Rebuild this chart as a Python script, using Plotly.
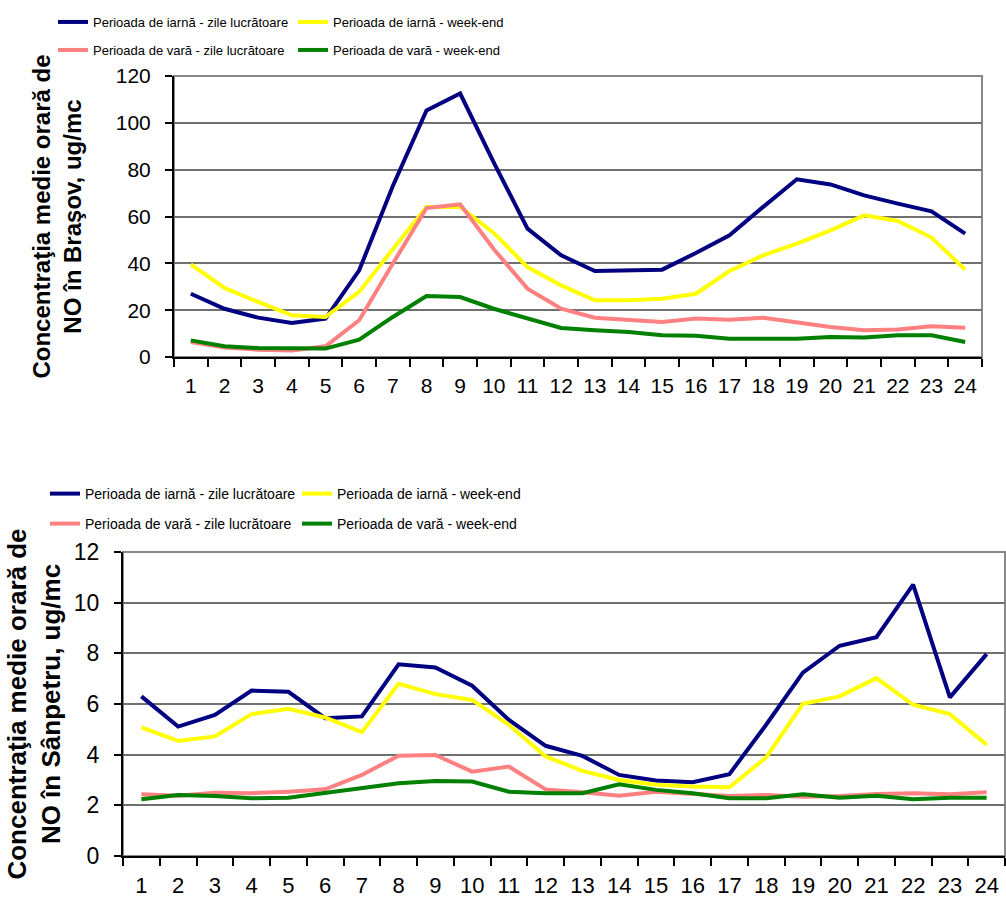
import plotly.graph_objects as go

# Hours of the day (categories)
hours = list(range(1, 25))

# Brasov - NO hourly mean concentration, ug/mc
brasov_iarna_lucru = [27.0, 20.6, 16.8, 14.5, 16.4, 37.0, 73.0, 105.3, 112.5, 83.0, 54.8, 43.4,
                      36.7, 37.0, 37.3, 44.4, 52.0, 64.1, 75.9, 73.7, 69.0, 65.5, 62.2, 52.7]
brasov_iarna_weekend = [39.6, 29.5, 23.5, 17.8, 17.1, 27.8, 46.0, 64.1, 64.1, 53.0, 38.4, 30.6,
                        24.2, 24.2, 24.9, 27.0, 36.7, 43.4, 48.4, 54.1, 60.5, 58.1, 51.0, 37.3]
brasov_vara_lucru = [6.4, 4.0, 3.1, 2.8, 4.6, 15.7, 39.9, 63.6, 65.2, 46.0, 29.2, 20.6,
                     16.8, 15.7, 14.9, 16.4, 15.9, 16.8, 14.9, 12.8, 11.4, 11.7, 13.1, 12.5]
brasov_vara_weekend = [7.1, 4.6, 3.8, 3.6, 3.6, 7.4, 17.1, 26.0, 25.6, 20.6, 16.4, 12.4,
                       11.4, 10.7, 9.3, 9.1, 7.8, 7.8, 7.8, 8.5, 8.3, 9.3, 9.3, 6.4]

# Sanpetru - NO hourly mean concentration, ug/mc
sanpetru_iarna_lucru = [6.30, 5.11, 5.57, 6.53, 6.48, 5.44, 5.51, 7.57, 7.44, 6.72, 5.37, 4.35,
                        3.95, 3.20, 2.98, 2.91, 3.23, 5.18, 7.24, 8.30, 8.64, 10.71, 6.26, 7.97]
sanpetru_iarna_weekend = [5.08, 4.54, 4.72, 5.60, 5.81, 5.47, 4.89, 6.80, 6.39, 6.16, 5.18, 3.93,
                          3.36, 3.00, 2.81, 2.74, 2.71, 3.89, 6.01, 6.30, 7.02, 5.97, 5.60, 4.39]
sanpetru_vara_lucru = [2.44, 2.38, 2.50, 2.48, 2.54, 2.63, 3.20, 3.96, 3.99, 3.33, 3.53, 2.63,
                       2.52, 2.38, 2.54, 2.45, 2.37, 2.41, 2.34, 2.37, 2.45, 2.48, 2.44, 2.52]
sanpetru_vara_weekend = [2.24, 2.41, 2.37, 2.28, 2.30, 2.48, 2.67, 2.87, 2.96, 2.94, 2.54, 2.48,
                         2.48, 2.83, 2.61, 2.48, 2.28, 2.28, 2.44, 2.30, 2.38, 2.24, 2.30, 2.30]

series_names = ["Perioada de iarnă - zile lucrătoare", "Perioada de iarnă - week-end",
                "Perioada de vară - zile lucrătoare", "Perioada de vară - week-end"]
series_colors = ["#000080", "#FFFF00", "#FF8080", "#008000"]

W, H = 1006, 899
FONT = "Liberation Sans, Arial, sans-serif"

fig = go.Figure()

# top chart: legend (row 1) / legend2 (row 2); bottom chart: legend3 / legend4
top_data = [brasov_iarna_lucru, brasov_iarna_weekend, brasov_vara_lucru, brasov_vara_weekend]
bot_data = [sanpetru_iarna_lucru, sanpetru_iarna_weekend, sanpetru_vara_lucru, sanpetru_vara_weekend]
top_legends = ["legend", "legend", "legend2", "legend2"]
bot_legends = ["legend3", "legend3", "legend4", "legend4"]

for name, col, ys, lg in zip(series_names, series_colors, top_data, top_legends):
    fig.add_trace(go.Scatter(x=hours, y=ys, name=name, mode="lines",
                             line=dict(color=col, width=4),
                             xaxis="x", yaxis="y", legend=lg))
for name, col, ys, lg in zip(series_names, series_colors, bot_data, bot_legends):
    fig.add_trace(go.Scatter(x=hours, y=ys, name=name, mode="lines",
                             line=dict(color=col, width=4),
                             xaxis="x2", yaxis="y2", legend=lg))


def xax(dom, anchor, size, standoff):
    # half-category padding on both sides, ticks between categories (Excel style)
    return dict(domain=dom, anchor=anchor, type="category", tickson="boundaries",
                range=[-0.5, len(hours) - 0.5],
                ticks="outside", ticklen=8, tickcolor="black", tickwidth=1.5,
                showline=True, linecolor="black", linewidth=2, showgrid=False,
                tickfont=dict(family=FONT, size=size, color="black"),
                ticklabelstandoff=standoff, fixedrange=True)


def yax(dom, anchor, rng, dtick, size, title, tsize, tstand):
    return dict(domain=dom, anchor=anchor, range=rng, dtick=dtick,
                ticks="outside", ticklen=7, tickcolor="black", tickwidth=1.5,
                showline=True, linecolor="black", linewidth=2, zeroline=False,
                showgrid=True, gridcolor="#707070", gridwidth=1.5,
                tickfont=dict(family=FONT, size=size, color="black"),
                ticklabelstandoff=10, fixedrange=True,
                title=dict(text=title, standoff=tstand,
                           font=dict(family=FONT, size=tsize, color="black", weight="bold")))


top_x = [174 / W, 982 / W]
top_y = [1 - 357 / H, 1 - 76 / H]
bot_x = [123 / W, 1005 / W]
bot_y = [1 - 856 / H, 1 - 552 / H]


def leg(x, y, ew, size):
    return dict(x=x, y=y, entrywidth=ew, orientation="h", xanchor="left", yanchor="middle",
                bgcolor="rgba(0,0,0,0)", borderwidth=0, itemwidth=30,
                font=dict(family=FONT, size=size, color="black"))


fig.update_layout(
    width=W, height=H,
    margin=dict(l=0, r=0, t=0, b=0, autoexpand=False),
    paper_bgcolor="white", plot_bgcolor="white",
    showlegend=True,
    xaxis=xax(top_x, "y", 21, 9),
    yaxis=yax(top_y, "x", [0, 120], 20, 21,
              "Concentraţia medie orară de<br>NO în Braşov, ug/mc", 24, 27),
    xaxis2=xax(bot_x, "y2", 22, 9),
    yaxis2=yax(bot_y, "x2", [0, 12], 2, 23,
               "Concentraţia medie orară de<br>NO în Sânpetru, ug/mc", 26, 6),
    legend=leg(53 / W, 1 - 22 / H, 195, 13),
    legend2=leg(53 / W, 1 - 50 / H, 195, 13),
    legend3=leg(45 / W, 1 - 494 / H, 207, 14),
    legend4=leg(45 / W, 1 - 524 / H, 207, 14),
)

# grey plot-area frame (top and right edges show; left/bottom covered by black axes)
for xr, yr in [("x domain", "y domain"), ("x2 domain", "y2 domain")]:
    fig.add_shape(type="rect", xref=xr, yref=yr, x0=0, x1=1, y0=0, y1=1,
                  line=dict(color="#888888", width=2), layer="below")

# page body margin off so the figure fills the window exactly
fig.write_html("out.html", config={"displayModeBar": False},
               post_script="document.body.style.margin='0';")
